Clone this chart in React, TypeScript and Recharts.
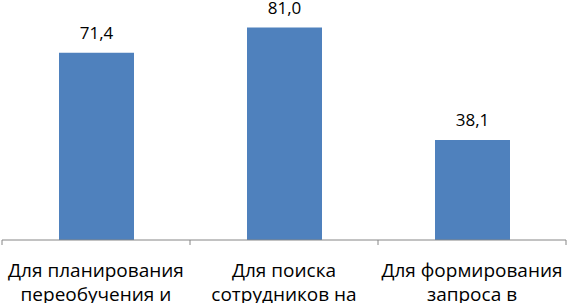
import { BarChart, Bar, XAxis, YAxis, LabelList } from "recharts";

const categories = [
  ["Для планирования", "переобучения и"],
  ["Для поиска", "сотрудников на"],
  ["Для формирования", "запроса в"],
];
const values = [71.4, 81.0, 38.1];

const data = categories.map((lines, i) => ({
  name: lines.join(" "),
  lines,
  value: values[i],
}));

const FONT = "'Open Sans', sans-serif";
const AXIS_COLOR = "#868686";

// eslint-disable-next-line @typescript-eslint/no-explicit-any
function CategoryTick(props: any) {
  const { x, y, payload, index, width, visibleTicksCount } = props;
  const lines: string[] = data[index]?.lines ?? [String(payload.value)];
  const half =
    payload?.offset && payload.offset > 0
      ? payload.offset
      : width / (visibleTicksCount || data.length) / 2;
  const isLast = index === (visibleTicksCount || data.length) - 1;
  return (
    <g>
      <line x1={x - half} x2={x - half} y1={y} y2={y + 5} stroke={AXIS_COLOR} />
      {isLast && (
        <line x1={x + half} x2={x + half} y1={y} y2={y + 5} stroke={AXIS_COLOR} />
      )}
      <text x={x} y={y} textAnchor="middle" fontFamily={FONT} fontSize={19} fill="#000">
        {lines.map((line, i) => (
          <tspan key={i} x={x} y={y + 37 + i * 24}>
            {line}
          </tspan>
        ))}
      </text>
    </g>
  );
}

export default function App() {
  return (
    <div style={{ position: "absolute", left: 0, top: 0, width: 567, height: 303, background: "#fff" }}>
      <BarChart
        width={567}
        height={303}
        data={data}
        margin={{ top: 4, right: 1, bottom: 0, left: 2 }}
      >
        <XAxis
          dataKey="name"
          height={63}
          axisLine={{ stroke: AXIS_COLOR }}
          tickLine={false}
          tickSize={0}
          tickMargin={0}
          interval={0}
          tick={<CategoryTick />}
        />
        <YAxis hide domain={[0, 90]} />
        <Bar dataKey="value" fill="#4F81BD" barSize={75} isAnimationActive={false}>
          <LabelList
            dataKey="value"
            position="top"
            offset={14}
            fontFamily={FONT}
            fontSize={17}
            fill="#000"
            formatter={(v: number) => Number(v).toFixed(1).replace(".", ",")}
          />
        </Bar>
      </BarChart>
    </div>
  );
}
